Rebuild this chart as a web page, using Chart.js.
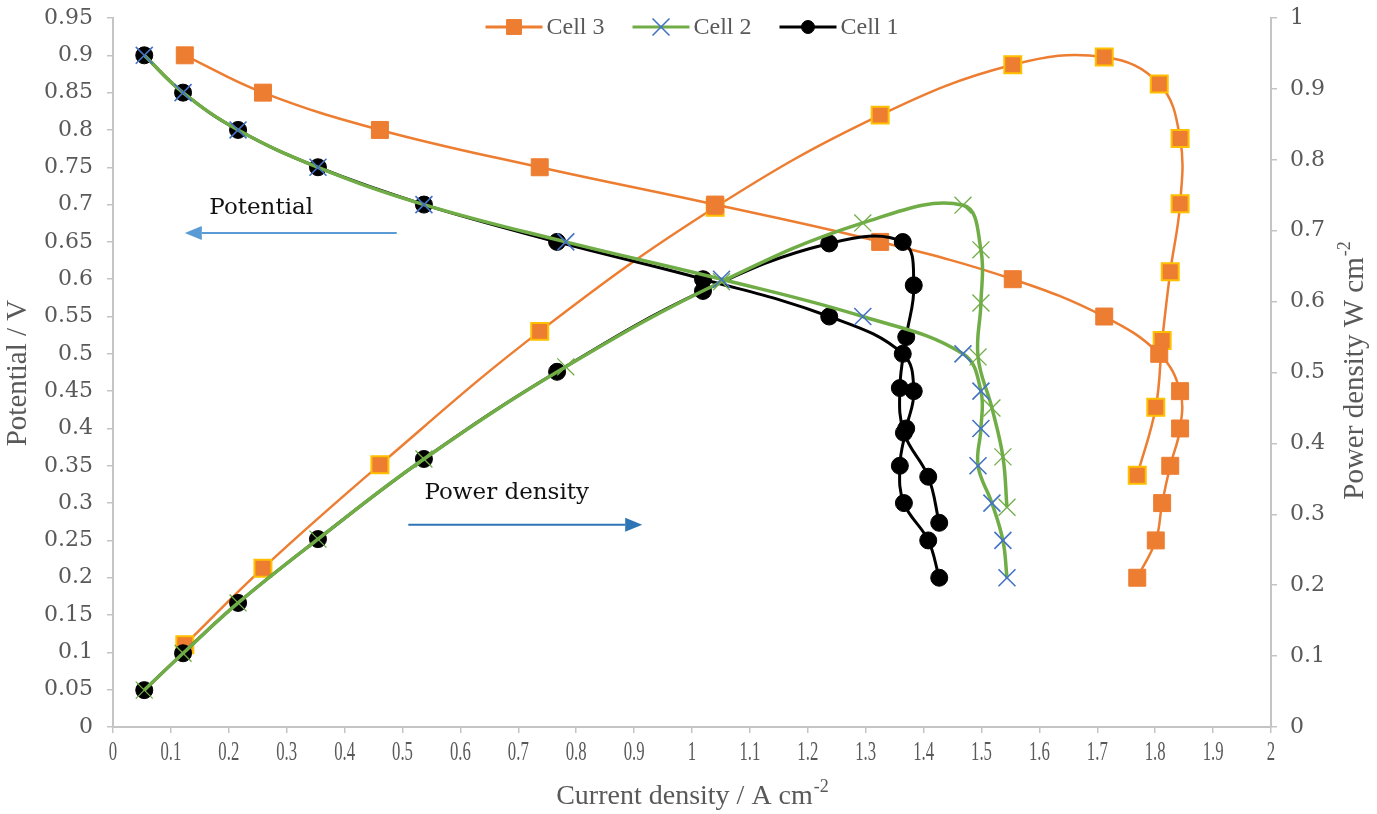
<!DOCTYPE html>
<html>
<head>
<meta charset="utf-8">
<title>Cell polarization and power density</title>
<script src="https://cdn.jsdelivr.net/npm/chart.js@4.4.1/dist/chart.umd.min.js"></script>
<style>
  html, body { margin: 0; padding: 0; background: #fff; }
  #wrap { width: 1377px; height: 814px; position: relative; }
</style>
</head>
<body>
<div id="wrap"><canvas id="polChart"></canvas></div>
<script>
// potential steps (V), same for every cell
const potential = [0.9, 0.85, 0.8, 0.75, 0.7, 0.65, 0.6, 0.55, 0.5, 0.45, 0.4, 0.35, 0.3, 0.25, 0.2];

// current density (A cm-2) at each potential step
const cell3Current = [0.124, 0.259, 0.461, 0.737, 1.040, 1.325, 1.554, 1.712, 1.807, 1.843, 1.843, 1.826, 1.812, 1.801, 1.769];
const cell2Current = [0.054, 0.121, 0.216, 0.354, 0.537, 0.782, 1.051, 1.295, 1.468, 1.499, 1.499, 1.494, 1.518, 1.537, 1.544];
const cell1Current = [0.054, 0.121, 0.216, 0.354, 0.537, 0.767, 1.019, 1.237, 1.364, 1.383, 1.370, 1.359, 1.366, 1.408, 1.427];

// power density (W cm-2) at each potential step
const cell3Power = [0.116, 0.224, 0.370, 0.558, 0.733, 0.863, 0.934, 0.945, 0.907, 0.830, 0.738, 0.642, 0.545, 0.451, 0.355];
const cell2Power = [0.052, 0.104, 0.175, 0.265, 0.378, 0.508, 0.628, 0.711, 0.736, 0.673, 0.598, 0.522, 0.450, 0.381, 0.310];
const cell1Power = [0.052, 0.104, 0.175, 0.265, 0.378, 0.501, 0.615, 0.682, 0.684, 0.623, 0.550, 0.478, 0.415, 0.353, 0.288];

// axis ticks
const currentTicks = [0, 0.1, 0.2, 0.3, 0.4, 0.5, 0.6, 0.7, 0.8, 0.9, 1, 1.1, 1.2, 1.3, 1.4, 1.5, 1.6, 1.7, 1.8, 1.9, 2];
const potentialTicks = [0, 0.05, 0.1, 0.15, 0.2, 0.25, 0.3, 0.35, 0.4, 0.45, 0.5, 0.55, 0.6, 0.65, 0.7, 0.75, 0.8, 0.85, 0.9, 0.95];
const powerTicks = [0, 0.1, 0.2, 0.3, 0.4, 0.5, 0.6, 0.7, 0.8, 0.9, 1];

const cellNames = ['Cell 3', 'Cell 2', 'Cell 1'];

const ORANGE = '#ED7D31';
const GOLD = '#FFC000';
const GREEN = '#70AD47';
const BLUE = '#4472C4';
const AXIS_GREY = '#C4C4C4';
const TEXT_GREY = '#595959';

function pairUp(xs, ys) {
    return xs.map((x, i) => ({ x: x, y: ys[i] }));
}

function curve(label, xs, ys, axis, style) {
    return Object.assign({
        label: label,
        data: pairUp(xs, ys),
        yAxisID: axis,
        showLine: true,
        tension: 0.4,
        fill: false,
    }, style);
}

const cell3Style = {
    borderColor: ORANGE, borderWidth: 2.5,
    pointStyle: 'rect', pointRadius: 12,
    pointBackgroundColor: ORANGE, pointBorderColor: ORANGE, pointBorderWidth: 1,
    order: 2,
};
const cell2Style = {
    borderColor: GREEN, borderWidth: 3.5,
    pointStyle: 'crossRot', pointRadius: 12,
    pointBackgroundColor: BLUE, pointBorderColor: BLUE, pointBorderWidth: 1.6,
    order: 0,
};
const cell1Style = {
    borderColor: '#000', borderWidth: 3,
    pointStyle: 'circle', pointRadius: 8.5,
    pointBackgroundColor: '#000', pointBorderColor: '#000', pointBorderWidth: 1,
    order: 1,
};

const datasets = [
    curve('Cell 3', cell3Current, potential, 'y', cell3Style),
    curve('Cell 3 power', cell3Current, cell3Power, 'y1',
        Object.assign({}, cell3Style, { pointBorderColor: GOLD, pointBorderWidth: 2 })),
    curve('Cell 2', cell2Current, potential, 'y', cell2Style),
    curve('Cell 2 power', cell2Current, cell2Power, 'y1',
        Object.assign({}, cell2Style, { pointBackgroundColor: GREEN, pointBorderColor: GREEN, pointBorderWidth: 1.3 })),
    curve('Cell 1', cell1Current, potential, 'y', cell1Style),
    curve('Cell 1 power', cell1Current, cell1Power, 'y1', cell1Style),
];

// legend swatches: line colour, marker colour, marker shape, marker size
const legendMarks = [
    { line: ORANGE, mark: ORANGE, style: 'rect', radius: 10.5 },
    { line: GREEN, mark: BLUE, style: 'crossRot', radius: 12 },
    { line: '#000', mark: '#000', style: 'circle', radius: 6.5 },
];

function fixedTicks(values) {
    return function (scale) {
        scale.ticks = values.map(v => ({ value: v }));
    };
}

// fixed axis box size, and no extra room asked for by overhanging labels
function fixedSize(dim, size) {
    return function (scale) {
        scale[dim] = size;
        scale.paddingTop = 0;
        scale.paddingBottom = 0;
        scale.paddingLeft = 0;
        scale.paddingRight = 0;
    };
}

function drawTitle(ctx, text, sup, cx, cy, angle, size) {
    const mainFont = size + 'px "Liberation Serif"';
    const supFont = Math.round(size * 0.63) + 'px "Liberation Serif"';
    ctx.save();
    ctx.translate(cx, cy);
    ctx.rotate(angle);
    ctx.fillStyle = TEXT_GREY;
    ctx.textBaseline = 'middle';
    ctx.textAlign = 'left';
    ctx.font = mainFont;
    const w1 = ctx.measureText(text).width;
    ctx.font = supFont;
    const w2 = sup ? ctx.measureText(sup).width : 0;
    const x0 = -(w1 + w2) / 2;
    ctx.font = mainFont;
    ctx.fillText(text, x0, 0);
    if (sup) {
        ctx.font = supFont;
        ctx.fillText(sup, x0 + w1 + 1, -size / 3);
    }
    ctx.restore();
}

function drawArrow(ctx, x1, y, x2, color) {
    const dir = Math.sign(x2 - x1);
    const head = 17;
    ctx.save();
    ctx.strokeStyle = color;
    ctx.fillStyle = color;
    ctx.lineWidth = 2;
    ctx.beginPath();
    ctx.moveTo(x1, y);
    ctx.lineTo(x2 - dir * head, y);
    ctx.stroke();
    ctx.beginPath();
    ctx.moveTo(x2, y);
    ctx.lineTo(x2 - dir * head, y - 7);
    ctx.lineTo(x2 - dir * head, y + 7);
    ctx.closePath();
    ctx.fill();
    ctx.restore();
}

// titles, condensed current ticks, legend row and the two arrow notes
const decorations = {
    id: 'decorations',
    afterDraw(chart) {
        const { ctx, chartArea, scales } = chart;
        const midX = (chartArea.left + chartArea.right) / 2;

        // current density tick labels, narrow serif
        ctx.save();
        ctx.font = '27px "Liberation Serif"';
        ctx.fillStyle = TEXT_GREY;
        ctx.textAlign = 'center';
        ctx.textBaseline = 'middle';
        currentTicks.forEach(v => {
            ctx.save();
            ctx.translate(scales.x.getPixelForValue(v), chartArea.bottom + 26);
            ctx.scale(0.62, 1);
            ctx.fillText(String(v), 0, 0);
            ctx.restore();
        });
        ctx.restore();

        drawTitle(ctx, 'Current density / A cm', '-2', midX, chartArea.bottom + 70, 0, 28);
        drawTitle(ctx, 'Potential / V', '', 18, 373, -Math.PI / 2, 29);
        drawTitle(ctx, 'Power density W cm', '-2', chartArea.right + 84, 371, -Math.PI / 2, 29);

        // legend
        ctx.save();
        ctx.font = '24px "Liberation Serif"';
        const lineLen = 57, textGap = 4, itemGap = 28;
        const widths = cellNames.map(n => lineLen + textGap + ctx.measureText(n).width);
        const total = widths.reduce((a, b) => a + b, 0) + itemGap * (cellNames.length - 1);
        let lx = midX - total / 2;
        const ly = 27;
        cellNames.forEach((name, i) => {
            const m = legendMarks[i];
            ctx.strokeStyle = m.line;
            ctx.lineWidth = 3;
            ctx.beginPath();
            ctx.moveTo(lx, ly);
            ctx.lineTo(lx + lineLen, ly);
            ctx.stroke();
            ctx.fillStyle = m.mark;
            ctx.strokeStyle = m.mark;
            ctx.lineWidth = m.style === 'crossRot' ? 1.6 : 1;
            Chart.helpers.drawPoint(ctx, { pointStyle: m.style, radius: m.radius, rotation: 0, borderWidth: ctx.lineWidth }, lx + lineLen / 2, ly);
            ctx.fillStyle = TEXT_GREY;
            ctx.textAlign = 'left';
            ctx.textBaseline = 'middle';
            ctx.fillText(name, lx + lineLen + textGap, ly + 1);
            lx += widths[i] + itemGap;
        });
        ctx.restore();

        // arrow notes, placed in current / potential units
        const px = v => scales.x.getPixelForValue(v);
        const py = v => scales.y.getPixelForValue(v);
        ctx.save();
        ctx.font = '23px "DejaVu Serif"';
        ctx.fillStyle = '#111';
        ctx.textAlign = 'center';
        ctx.textBaseline = 'middle';
        ctx.fillText('Potential', px(0.256), py(0.695));
        ctx.fillText('Power density', px(0.68), py(0.313));
        ctx.restore();
        drawArrow(ctx, px(0.49), py(0.662), px(0.124), '#5B9BD5');
        drawArrow(ctx, px(0.51), py(0.271), px(0.914), '#2E75B6');
    }
};

const sideGrid = {
    display: true,
    drawOnChartArea: false,
    drawTicks: true,
    tickLength: 6,
    color: AXIS_GREY,
    lineWidth: 1.5,
};

new Chart(document.getElementById('polChart'), {
    type: 'scatter',
    data: { datasets: datasets },
    options: {
        responsive: true,
        maintainAspectRatio: false,
        animation: false,
        events: [],
        layout: { padding: { top: 18, left: 0, right: 0, bottom: 0 } },
        plugins: {
            legend: { display: false },
            tooltip: { enabled: false },
        },
        scales: {
            x: {
                type: 'linear',
                min: 0, max: 2,
                afterBuildTicks: fixedTicks(currentTicks),
                afterFit: fixedSize('height', 87),
                grid: sideGrid,
                border: { color: AXIS_GREY, width: 2 },
                ticks: { display: false },
            },
            y: {
                type: 'linear',
                position: 'left',
                min: 0, max: 0.95,
                afterBuildTicks: fixedTicks(potentialTicks),
                afterFit: fixedSize('width', 113),
                grid: sideGrid,
                border: { color: AXIS_GREY, width: 2 },
                ticks: {
                    padding: 14,
                    color: TEXT_GREY,
                    font: { family: 'DejaVu Serif', size: 22 },
                    callback: v => String(v),
                },
            },
            y1: {
                type: 'linear',
                position: 'right',
                min: 0, max: 1,
                afterBuildTicks: fixedTicks(powerTicks),
                afterFit: fixedSize('width', 106),
                grid: sideGrid,
                border: { color: AXIS_GREY, width: 2 },
                ticks: {
                    padding: 13,
                    color: TEXT_GREY,
                    font: { family: 'DejaVu Serif', size: 22 },
                    callback: v => String(v),
                },
            },
        },
    },
    plugins: [decorations],
});
</script>
</body>
</html>
